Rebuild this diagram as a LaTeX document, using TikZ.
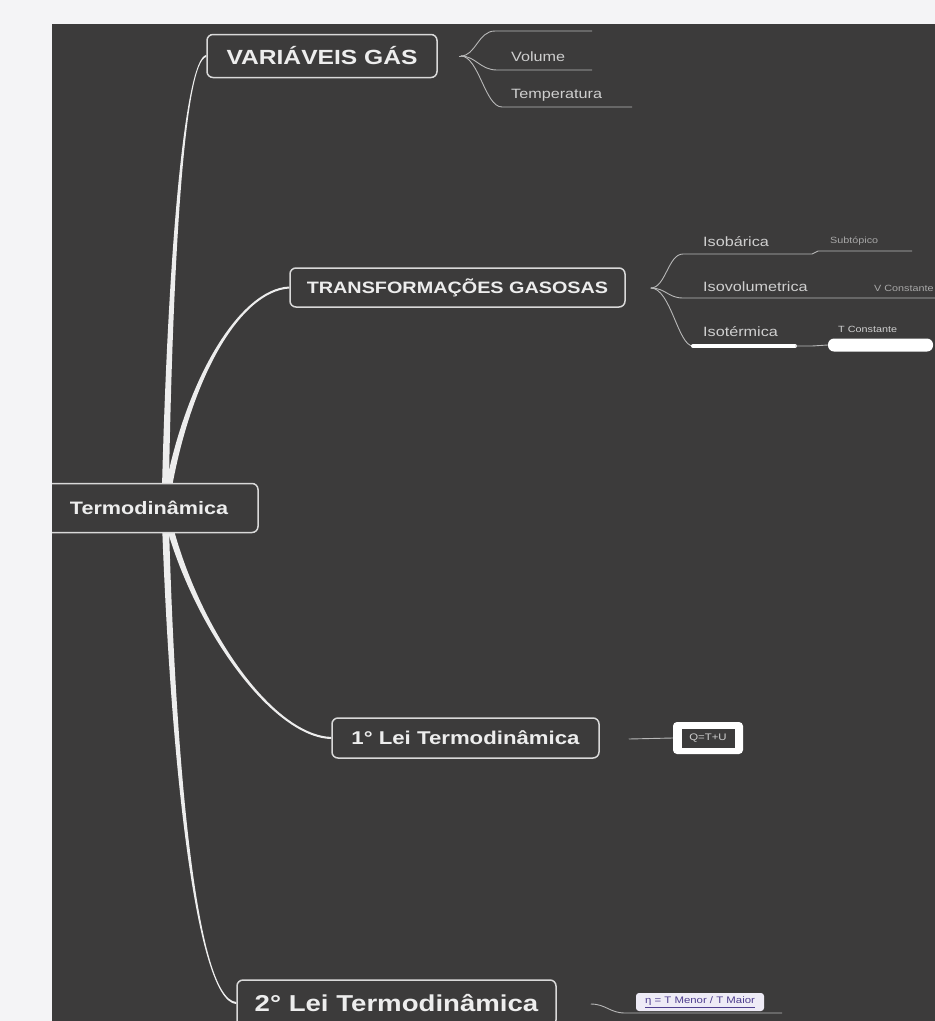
\documentclass[tikz,border=0pt]{standalone}
\usepackage{fontspec}
\setmainfont{Liberation Sans}[FakeStretch=1.2]
\usetikzlibrary{calc}
\definecolor{bgdark}{HTML}{3C3B3B}
\definecolor{pagewhite}{HTML}{F4F4F6}
\definecolor{boxline}{HTML}{D9D9D9}
\definecolor{txtwhite}{HTML}{EDEDED}
\definecolor{txtgray}{HTML}{CFCFCF}
\definecolor{txtdim}{HTML}{A8A8A8}
\definecolor{linegray}{HTML}{B8B8B8}
\definecolor{purp}{HTML}{4F3F8F}
\definecolor{lav}{HTML}{EEEBF6}
\pgfdeclarelayer{backlayer}
\pgfdeclarelayer{midlayer}
\pgfsetlayers{backlayer,midlayer,main}
\newcommand\tbranch[5]{\fill[branchfill] ($(#1)+(-3.5,0)$) .. controls ($(#2)+(-2.6,0)$) and ($(#3)-(0,1.4*#5)$) .. ($(#4)-(0,#5)$) -- ($(#4)+(0,#5)$) .. controls ($(#3)+(0,1.4*#5)$) and ($(#2)+(2.6,0)$) .. ($(#1)+(3.5,0)$) -- cycle;}
\tikzset{
  topic/.style={draw=boxline, line width=1.5pt, rounded corners=6pt, fill=bgdark, text=txtwhite, inner sep=0pt},
  leaf/.style={text=txtgray, inner sep=0pt, anchor=base west, font=\fontsize{13.5}{15}\selectfont},
  tiny/.style={text=txtdim, inner sep=0pt, anchor=base west, font=\fontsize{9}{10}\selectfont},
  thinline/.style={draw=linegray, line width=0.9pt},
  branchfill/.style={fill=txtwhite}
}
\begin{document}
\begin{tikzpicture}[x=1pt,y=-1pt]
\useasboundingbox (0,0) rectangle (935,1021);
\clip (0,0) rectangle (935,1021);
\begin{pgfonlayer}{backlayer}
\fill[pagewhite] (0,0) rectangle (935,1021);
\fill[bgdark] (52,24) rectangle (935,1021);
\end{pgfonlayer}

% main topics
\node[topic, minimum width=218pt, minimum height=49pt, font=\bfseries\fontsize{18}{20}\selectfont] (root) at (149,508) {Termodinâmica};
\node[topic, minimum width=230pt, minimum height=43pt, font=\bfseries\fontsize{20.5}{22}\selectfont] (var) at (322,56) {VARIÁVEIS GÁS};
\node[topic, minimum width=335pt, minimum height=39pt, font=\bfseries\fontsize{16.5}{18}\selectfont] (trans) at (457.5,287.5) {TRANSFORMAÇÕES GASOSAS};
\node[topic, minimum width=267pt, minimum height=40pt, font=\bfseries\fontsize{18.5}{20}\selectfont] (lei1) at (465.5,738) {1° Lei Termodinâmica};
\node[topic, minimum width=319pt, minimum height=46pt, font=\bfseries\fontsize{23}{25}\selectfont] (lei2) at (396.5,1003) {2° Lei Termodinâmica};
\fill[pagewhite] (0,470) rectangle (52,545);

% tapered main branches
\coordinate (hub) at (165,508);
\coordinate (c1a) at (170,250); \coordinate (c1b) at (185,60);
\coordinate (c2a) at (185,380); \coordinate (c2b) at (240,290);
\coordinate (c3a) at (190,620); \coordinate (c3b) at (270,736);
\coordinate (c4a) at (172,750); \coordinate (c4b) at (195,1000);
\begin{pgfonlayer}{midlayer}
\tbranch{hub}{c1a}{c1b}{var.west}{1}
\tbranch{hub}{c2a}{c2b}{trans.west}{1}
\tbranch{hub}{c3a}{c3b}{lei1.west}{-1}
\tbranch{hub}{c4a}{c4b}{lei2.west}{-1}
\end{pgfonlayer}

% VARIAVEIS GAS subtopics
\coordinate (vf) at ($(var.east)+(23,0)$);
\coordinate (v0) at (495,31); \coordinate (v0e) at (592,31);
\coordinate (v1) at (497,70); \coordinate (v1e) at (592,70);
\coordinate (v2) at (502,107); \coordinate (v2e) at (632,107);
\draw[thinline] ($(var.east)+(21,0)$) -- (vf);
\draw[thinline] (vf) .. controls +(15,0) and +(-17,0) .. (v0) -- (v0e);
\draw[thinline] (vf) .. controls +(15,0) and +(-17,0) .. (v1) -- (v1e);
\draw[thinline] (vf) .. controls +(18,0) and +(-17,0) .. (v2) -- (v2e);
\node[leaf] (vol) at (511,61) {Volume};
\node[leaf] (temp) at (511,98) {Temperatura};

% TRANSFORMACOES subtopics
\coordinate (tf) at ($(trans.east)+(25,0.5)$);
\coordinate (t0) at (683,254); \coordinate (t0m) at (812,254);
\coordinate (t0n) at (818,251); \coordinate (t0e) at (912,251);
\coordinate (t1) at (683,298); \coordinate (t1e) at (935,298);
\coordinate (t2) at (693,346); \coordinate (t2e) at (795,346);
\coordinate (t2f) at (812,346);
\draw[thinline] (tf) .. controls +(15,0) and +(-15,0) .. (t0) -- (t0m) .. controls +(3,0) and +(-3,0) .. (t0n) -- (t0e);
\draw[thinline] (tf) .. controls +(15,0) and +(-15,0) .. (t1) -- (t1e);
\draw[thinline] (tf) .. controls +(20,0) and +(-15,0) .. (t2);
\draw[white, line width=4pt, line cap=round] (t2) -- (t2e);
\node[fill=white, rounded corners=6pt, minimum width=105pt, minimum height=13pt, inner sep=0pt] (tbox) at (880.5,345) {};
\draw[thinline] (t2e) -- (t2f) .. controls +(8,0) and +(-8,0) .. (tbox.west);
\node[leaf] (isob) at (703,246) {Isobárica};
\node[leaf] (isov) at (703,291) {Isovolumetrica};
\node[leaf] (isot) at (703,336) {Isotérmica};
\node[tiny] (subt) at (830,243) {Subtópico};
\node[tiny] (vconst) at (874,291) {V Constante};
\node[tiny, text=txtgray] (tconst) at (838,332) {T Constante};

% 1a lei
\node[fill=white, rounded corners=4pt, minimum width=70pt, minimum height=32pt, inner sep=0pt] (qbox) at (708,738) {};
\node[fill=bgdark, minimum width=53pt, minimum height=19pt, inner sep=0pt, text=txtgray, font=\fontsize{9.5}{10}\selectfont] (qtext) at (708,738) {Q=T+U};
\draw[thinline] ($(lei1.east)+(29,1)$) -- (qbox.west);

% 2a lei
\coordinate (l2s) at ($(lei2.east)+(34,1)$);
\coordinate (l2m) at (625,1013); \coordinate (l2e) at (782,1013);
\draw[thinline] (l2s) .. controls +(15,0) and +(-15,0) .. (l2m) -- (l2e);
\node[fill=lav, rounded corners=3pt, minimum width=128pt, minimum height=18pt, inner sep=0pt, text=purp, font=\fontsize{9.5}{10}\selectfont] (eta) at (700,1002) {\underline{η = T Menor / T Maior}};
\end{tikzpicture}
\end{document}
